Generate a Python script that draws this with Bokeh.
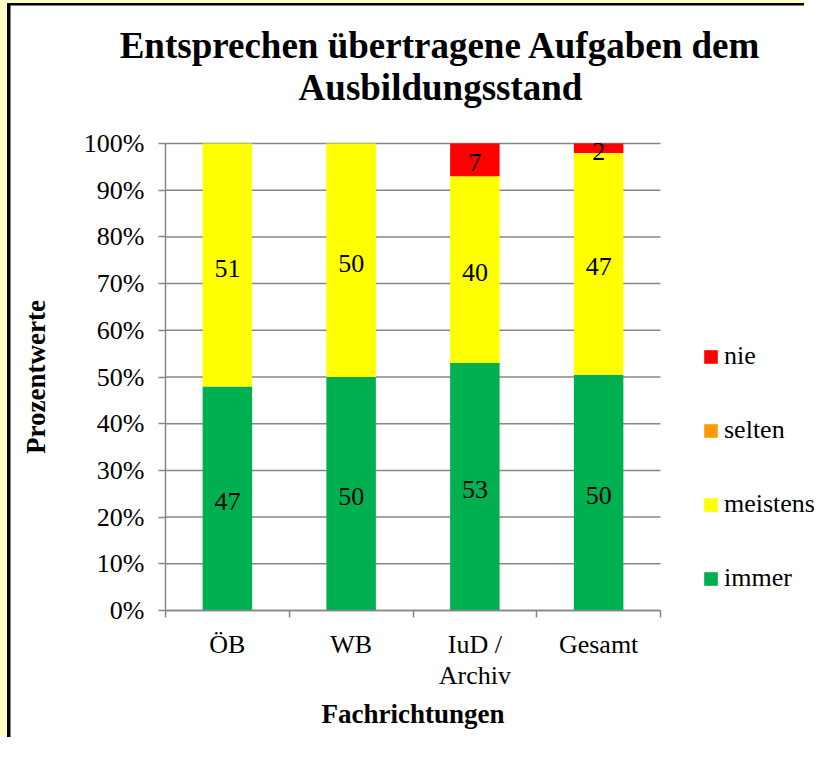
import numpy as np
from bokeh.plotting import figure
from bokeh.models import (Range1d, FixedTicker, PrintfTickFormatter, ColumnDataSource,
                          LabelSet, Legend, LegendItem, Label)
from bokeh.core.properties import value
from bokeh.embed import file_html
from bokeh.resources import INLINE

# ---------------- data ----------------
categories = ["ÖB", "WB", "IuD /\nArchiv", "Gesamt"]
immer = [47, 50, 53, 50]
meistens = [51, 50, 40, 47]
selten = [0, 0, 0, 0]
nie = [0, 0, 7, 2]
series_names = ["immer", "meistens", "selten", "nie"]
series_colors = ["#00B050", "#FFFF00", "#FF9900", "#FF0000"]
y_ticks = [0, 10, 20, 30, 40, 50, 60, 70, 80, 90, 100]
title_lines = ["Entsprechen übertragene Aufgaben dem", "Ausbildungsstand"]
x_title = "Fachrichtungen"
y_title = "Prozentwerte"

FONT = "Liberation Serif"
GRID = "#868686"

# ---------------- layout (pixels on the canvas) ----------------
W, H = 804, 737
AX_L, AX_B = 155, 605            # canvas position of the (0, 0%) corner
AX_W, AX_H = 495, 467            # pixel size of the bar area
n = len(categories)
x_start, x_end = -AX_L / AX_W * n, (W - AX_L) / AX_W * n
y_start, y_end = -(H - AX_B) / AX_H * 100.0, AX_B / AX_H * 100.0

def px_x(px):   # canvas pixel -> data x
    return (px - AX_L) / AX_W * n

def px_y(py):   # canvas pixel (from top) -> data y
    return (AX_B - py) / AX_H * 100.0

values = np.array([immer, meistens, selten, nie], dtype=float)
totals = values.sum(axis=0)
pct = values / totals * 100.0
xpos = np.arange(n) + 0.5

data = {"x": xpos}
for name, row in zip(series_names, pct):
    data[name] = row
src = ColumnDataSource(data)

p = figure(width=W, height=H, output_backend="svg", toolbar_location=None,
           x_range=Range1d(x_start, x_end), y_range=Range1d(y_start, y_end),
           min_border_left=0, min_border_right=0, min_border_top=0,
           min_border_bottom=0)
p.border_fill_color = "white"
p.background_fill_color = "white"
p.outline_line_color = None
p.styles = {"border-left": "7px solid #FFFFC8", "border-top": "3px solid #FFFFC8",
            "padding-left": "3px", "padding-top": "2px",
            "background-color": "black"}

# horizontal gridlines limited to the category span
p.xgrid.visible = False
p.ygrid.visible = False
p.segment(x0=[0] * len(y_ticks), x1=[n] * len(y_ticks), y0=y_ticks, y1=y_ticks,
          line_color=GRID, line_width=1.5)

renderers = p.vbar_stack(series_names, x="x", width=0.4, color=series_colors,
                         line_color=None, source=src)

# data labels
bottom = np.zeros(n)
for name, vals, row in zip(series_names, values, pct):
    mid = bottom + row / 2.0
    txt = [str(int(v)) if v > 0 else "" for v in vals]
    ls = LabelSet(x="x", y="y", text="t", y_offset=-3,
                  source=ColumnDataSource({"x": xpos, "y": mid, "t": txt}),
                  text_align="center", text_baseline="middle",
                  text_font=value(FONT), text_font_size="26px", text_color="black")
    p.add_layout(ls)
    bottom = bottom + row

# axes (placed at the data origin)
p.yaxis.fixed_location = 0
p.yaxis.bounds = (0, 100)
p.yaxis.ticker = FixedTicker(ticks=y_ticks)
p.yaxis.formatter = PrintfTickFormatter(format="%d%%")
p.yaxis.major_tick_out = 7
p.yaxis.major_tick_in = 0
p.yaxis.minor_tick_out = 0
p.yaxis.major_label_standoff = 14

p.xaxis.fixed_location = 0
p.xaxis.bounds = (0, n)
p.xaxis.ticker = FixedTicker(ticks=list(xpos), minor_ticks=list(np.arange(n + 1)))
p.xaxis.major_label_overrides = {float(x): c for x, c in zip(xpos, categories)}
p.xaxis.major_tick_out = 0
p.xaxis.major_tick_in = 0
p.xaxis.minor_tick_out = 7
p.xaxis.minor_tick_in = 0
p.xaxis.major_label_standoff = 12
p.xaxis.major_label_text_line_height = 1.1

for ax in (p.xaxis, p.yaxis):
    ax.axis_line_color = GRID
    ax.axis_line_width = 1.5
    ax.major_tick_line_color = GRID
    ax.major_tick_line_width = 1.5
    ax.minor_tick_line_color = GRID
    ax.minor_tick_line_width = 1.5
    ax.major_label_text_font = FONT
    ax.major_label_text_font_size = "26px"
    ax.major_label_text_color = "black"

# axis titles
p.add_layout(Label(x=px_x(AX_L + AX_W / 2), y=px_y(708), text=x_title,
                   text_align="center", text_baseline="middle",
                   text_font=FONT, text_font_size="27px", text_font_style="bold",
                   text_color="black"))
p.add_layout(Label(x=px_x(25), y=px_y(AX_B - AX_H / 2), text=y_title, angle=np.pi / 2,
                   text_align="center", text_baseline="middle",
                   text_font=FONT, text_font_size="27px", text_font_style="bold",
                   text_color="black"))

# title lines
title_x_px = 430
title_base_px = [40, 82]
for line, by in zip(title_lines, title_base_px):
    p.add_layout(Label(x=px_x(title_x_px), y=px_y(by), text=line,
                       text_align="center", text_baseline="alphabetic",
                       text_font=FONT, text_font_size="37px", text_font_style="bold",
                       text_color="black"))

# legend (reverse order as in reference)
items = [LegendItem(label=nm, renderers=[r]) for nm, r in zip(series_names, renderers)][::-1]
legend = Legend(items=items, location=(692, 149), orientation="vertical",
                glyph_width=17, glyph_height=17, label_height=30, spacing=44,
                label_standoff=5, padding=0, margin=0,
                border_line_color=None, background_fill_alpha=0,
                label_text_font=FONT, label_text_font_size="26px",
                label_text_color="black")
p.add_layout(legend, "center")

html = file_html(p, INLINE)
open("out.html", "w").write(html)
